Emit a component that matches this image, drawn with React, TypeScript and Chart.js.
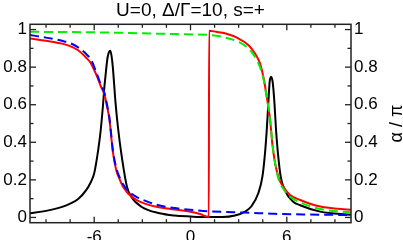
import React, { useEffect, useRef } from "react";
import { Chart, registerables } from "chart.js";
Chart.register(...registerables);

const titleText = "U=0, \u0394/\u0393=10, s=+";
const rightTitle = "\u03b1 / \u03c0";

const xMajorTicks = [-6, 0, 6];
const xTickLabels = ["-6", "0", "6"];
const xMinorTicks = [-9, -7.5, -6, -4.5, -3, -1.5, 0, 1.5, 3, 4.5, 6, 7.5, 9];
const yMajorTicks = [0, 0.2, 0.4, 0.6, 0.8, 1];
const yTickLabels = ["0", "0.2", "0.4", "0.6", "0.8", "1"];
const yMinorTicks = [0, 0.1, 0.2, 0.3, 0.4, 0.5, 0.6, 0.7, 0.8, 0.9, 1];

const blackX = [-10, -9, -8, -7.5, -7, -6.5, -6.2, -6, -5.75, -5.6, -5.45, -5.38, -5.3, -5.17, -5.08, -5.0, -4.92, -4.84, -4.67, -4.52, -4.31, -3.96, -3.69, -3.06, -1.92, -1, 0, 1, 2, 2.77, 3.4, 3.81, 4.23, 4.48, 4.64, 4.75, 4.85, 4.93, 5.02, 5.12, 5.23, 5.33, 5.45, 5.62, 5.9, 6.4, 6.83, 8.08, 10];
const blackY = [0.022, 0.035, 0.056, 0.073, 0.098, 0.145, 0.19, 0.235, 0.36, 0.46, 0.6, 0.68, 0.75, 0.85, 0.88, 0.887, 0.86, 0.8, 0.61, 0.48, 0.34, 0.164, 0.11, 0.057, 0.022, 0.01, 0.005, 0.002, 0.002, 0.01, 0.031, 0.061, 0.13, 0.217, 0.34, 0.465, 0.61, 0.72, 0.749, 0.72, 0.61, 0.465, 0.34, 0.217, 0.14, 0.084, 0.065, 0.031, 0.014];

const redX = [-10, -9, -8, -7.5, -7, -6.5, -6.2, -5.8, -5.6, -5.35, -5.2, -5.05, -4.95, -4.84, -4.63, -4.4, -4.21, -3.9, -3.38, -2.8, -2.13, -1, 0, 0.6, 1.14, 1.16, 1.6, 2.14, 2.98, 3.6, 4.02, 4.33, 4.54, 4.75, 4.96, 5.1, 5.27, 5.5, 5.8, 6.2, 6.83, 8.08, 10];
const redY = [0.953, 0.94, 0.925, 0.912, 0.89, 0.85, 0.82, 0.745, 0.7, 0.65, 0.59, 0.52, 0.44, 0.35, 0.253, 0.2, 0.164, 0.129, 0.093, 0.072, 0.057, 0.042, 0.03, 0.018, 0.003, 0.994, 0.988, 0.98, 0.953, 0.918, 0.873, 0.82, 0.749, 0.643, 0.519, 0.39, 0.29, 0.21, 0.16, 0.12, 0.093, 0.058, 0.041];

const blueX = [-10, -9, -8, -7.5, -7, -6.5, -6.2, -5.8, -5.6, -5.35, -5.2, -5.05, -4.95, -4.84, -4.63, -4.4, -4.21, -3.9, -3.38, -2.8, -2.13, -1, 0.16, 1.14, 2.2, 3.4, 4.5, 5.27, 7, 8.5, 10];
const blueY = [0.971, 0.957, 0.94, 0.928, 0.905, 0.87, 0.84, 0.757, 0.71, 0.66, 0.6, 0.53, 0.45, 0.36, 0.265, 0.21, 0.178, 0.142, 0.11, 0.088, 0.068, 0.05, 0.04, 0.032, 0.029, 0.026, 0.022, 0.019, 0.016, 0.014, 0.013];

const greenX = [-10, -8, -5.67, -3, -1, 0.16, 1.16, 2.14, 2.98, 3.6, 4.02, 4.33, 4.54, 4.75, 4.96, 5.1, 5.27, 5.5, 5.8, 6.2, 6.83, 8.08, 10];
const greenY = [0.988, 0.987, 0.985, 0.98, 0.976, 0.974, 0.971, 0.958, 0.935, 0.9, 0.855, 0.8, 0.74, 0.64, 0.52, 0.4, 0.29, 0.2, 0.15, 0.11, 0.08, 0.045, 0.027];

const pts = (xs: number[], ys: number[]) => xs.map((x, i) => ({ x, y: ys[i] }));

const FONT = '"Liberation Sans", Arial, Helvetica, sans-serif';

const framePlugin = {
  id: "frameTicks",
  afterDraw(chart: any) {
    const { ctx, chartArea: a, scales } = chart;
    const xs = scales.x;
    const ys = scales.y;
    ctx.save();
    ctx.strokeStyle = "#222";
    ctx.lineWidth = 1.3;
    const line = (x1: number, y1: number, x2: number, y2: number) => {
      ctx.beginPath();
      ctx.moveTo(x1, y1);
      ctx.lineTo(x2, y2);
      ctx.stroke();
    };
    xMinorTicks.forEach((v) => {
      const p = xs.getPixelForValue(v);
      const len = xMajorTicks.includes(v) ? 6 : 3.5;
      line(p, a.bottom, p, a.bottom - len);
      line(p, a.top, p, a.top + len);
    });
    yMinorTicks.forEach((v) => {
      const p = ys.getPixelForValue(v);
      const len = yMajorTicks.includes(v) ? 6 : 3.5;
      line(a.left, p, a.left + len, p);
      line(a.right, p, a.right - len, p);
    });
    ctx.lineWidth = 1.5;
    ctx.strokeRect(a.left, a.top, a.right - a.left, a.bottom - a.top);

    ctx.fillStyle = "#000";
    ctx.font = "19px " + FONT;
    ctx.textAlign = "center";
    ctx.textBaseline = "middle";
    ctx.fillText(titleText, (a.left + a.right) / 2, 11);

    ctx.translate(397, (a.top + a.bottom) / 2);
    ctx.rotate(-Math.PI / 2);
    ctx.font = "18px " + FONT;
    ctx.fillText(rightTitle, 0, 0);
    ctx.restore();
  },
};

export default function App() {
  const ref = useRef<HTMLCanvasElement>(null);
  useEffect(() => {
    document.body.style.margin = "0";
    const canvas = ref.current;
    if (!canvas) return;
    const common = {
      showLine: true,
      pointRadius: 0,
      borderWidth: 2,
      fill: false,
      cubicInterpolationMode: "monotone" as const,
      yAxisID: "y",
    };
    const tickFont = { family: FONT, size: 17 };
    const yLabel = (v: any) => {
      const i = yMajorTicks.indexOf(Number(v));
      return i >= 0 ? yTickLabels[i] : "";
    };
    const chart = new Chart(canvas, {
      type: "scatter",
      data: {
        datasets: [
          { ...common, label: "black", data: pts(blackX, blackY), borderColor: "#000000", order: 4 },
          { ...common, label: "red", data: pts(redX, redY), borderColor: "#ff0000", order: 3 },
          { ...common, label: "green", data: pts(greenX, greenY), borderColor: "#00ee00", borderDash: [9, 5], order: 2 },
          { ...common, label: "blue", data: pts(blueX, blueY), borderColor: "#0000ff", borderDash: [9, 5], order: 1 },
        ],
      },
      options: {
        animation: false,
        responsive: false,
        layout: { padding: { top: 24.3, left: 0, right: 0, bottom: 0 } },
        plugins: { legend: { display: false }, tooltip: { enabled: false }, title: { display: false } },
        scales: {
          x: {
            type: "linear",
            position: "bottom",
            min: -10,
            max: 10,
            grid: { display: false, drawTicks: false },
            border: { display: false },
            ticks: {
              font: tickFont,
              color: "#000",
              padding: 4,
              maxRotation: 0,
              callback: (v: any) => {
                const i = xMajorTicks.indexOf(Number(v));
                return i >= 0 ? xTickLabels[i] : "";
              },
            },
            afterBuildTicks: (s: any) => {
              s.ticks = xMajorTicks.map((v) => ({ value: v }));
            },
            afterFit: (s: any) => {
              s.height = 17.3;
            },
          },
          y: {
            type: "linear",
            position: "left",
            min: -0.028,
            max: 1.028,
            grid: { display: false, drawTicks: false },
            border: { display: false },
            ticks: { font: tickFont, color: "#000", padding: 3, callback: yLabel },
            afterBuildTicks: (s: any) => {
              s.ticks = yMajorTicks.map((v) => ({ value: v }));
            },
            afterFit: (s: any) => {
              s.width = 30;
            },
          },
          y2: {
            type: "linear",
            position: "right",
            min: -0.028,
            max: 1.028,
            grid: { display: false, drawTicks: false },
            border: { display: false },
            ticks: { font: tickFont, color: "#000", padding: 3, callback: yLabel },
            afterBuildTicks: (s: any) => {
              s.ticks = yMajorTicks.map((v) => ({ value: v }));
            },
            afterFit: (s: any) => {
              s.width = 52;
            },
          },
        },
      },
      plugins: [framePlugin],
    });
    return () => chart.destroy();
  }, []);
  return (
    <div style={{ width: 403, height: 240 }}>
      <canvas ref={ref} width={403} height={240} style={{ display: "block" }} />
    </div>
  );
}
